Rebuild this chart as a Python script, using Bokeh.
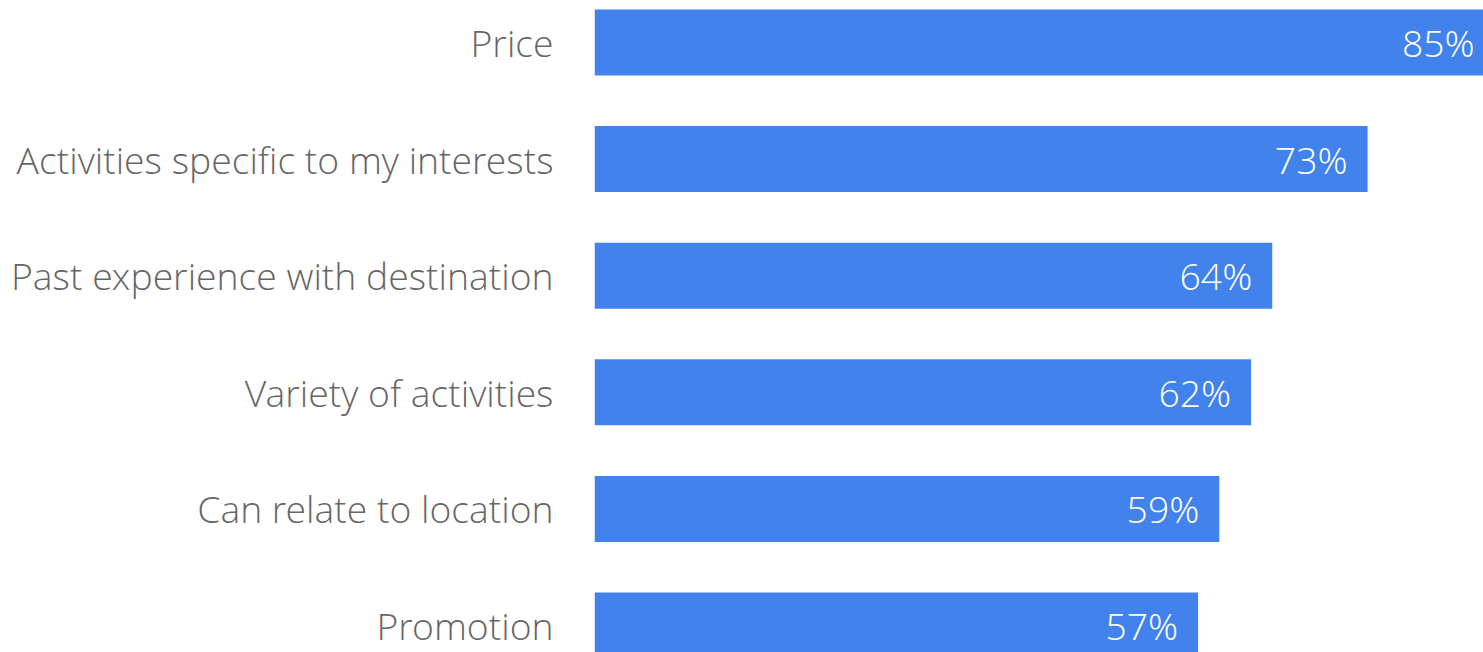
from bokeh.plotting import figure
from bokeh.models import Range1d, FixedTicker, ColumnDataSource
from bokeh.core.properties import value
from bokeh.embed import file_html
from bokeh.resources import INLINE

categories = ["Price", "Activities specific to my interests", "Past experience with destination",
              "Variety of activities", "Can relate to location", "Promotion"]
values = [85, 73, 64, 62, 59, 57]
labels = [f"{v}%" for v in values]

n = len(categories)
ypos = [n - 1 - i for i in range(n)]

FONT = "'Open Sans Light', 'Open Sans'"

src = ColumnDataSource(dict(y=ypos, v=values, lab=labels, cat=categories))

p = figure(width=1483, height=652, output_backend="svg", toolbar_location=None,
           x_range=Range1d(0, 83.95), y_range=Range1d(-0.2316, 5.360),
           min_border_left=594, min_border_right=0, min_border_top=0, min_border_bottom=0)
p.background_fill_color = "white"
p.border_fill_color = "white"
p.outline_line_color = None
p.xgrid.visible = False
p.ygrid.visible = False
p.xaxis.visible = False

p.hbar(y="y", right="v", left=0, height=0.566, source=src, color="#4282ec", line_color=None)
p.text(x="v", y="y", text="lab", source=src, x_offset=-20, text_align="right",
       text_baseline="middle", text_color="white", text_font=value(FONT), text_font_size="37.3px")

ya = p.yaxis[0]
ya.ticker = FixedTicker(ticks=ypos)
ya.major_label_overrides = {y: c for y, c in zip(ypos, categories)}
ya.axis_line_color = None
ya.major_tick_line_color = None
ya.minor_tick_line_color = None
ya.major_tick_out = 0
ya.major_tick_in = 0
ya.major_label_standoff = 41
ya.major_label_text_font = FONT
ya.major_label_text_font_size = "37.3px"
ya.major_label_text_color = "#666666"

open("out.html", "w").write(file_html(p, INLINE))
